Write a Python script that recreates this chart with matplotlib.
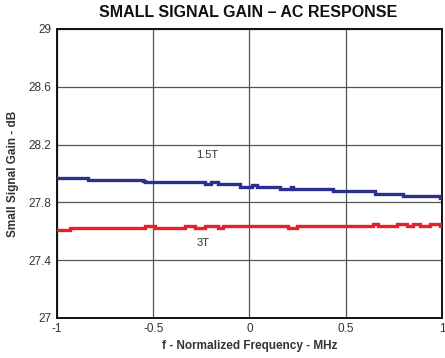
import matplotlib
matplotlib.use("Agg")
import matplotlib.pyplot as plt

# ---------------------------------------------------------------------------
# Data (normalized frequency, gain in dB)
# ---------------------------------------------------------------------------
freq_15t = [-1.0, -0.837, -0.553, -0.543, -0.231, -0.200, -0.165, -0.049,
            0.011, 0.037, 0.158, 0.215, 0.225, 0.436, 0.652, 0.799, 0.990, 1.0]
gain_15t = [27.971, 27.955, 27.945, 27.939, 27.925, 27.939, 27.925, 27.907,
            27.918, 27.907, 27.893, 27.904, 27.891, 27.879, 27.860, 27.842,
            27.830, 27.830]

freq_3t = [-1.0, -0.932, -0.543, -0.491, -0.335, -0.283, -0.231, -0.164,
           -0.138, 0.200, 0.247, 0.642, 0.668, 0.765, 0.817, 0.849, 0.886,
           0.938, 0.990, 1.0]
gain_3t = [27.609, 27.621, 27.635, 27.621, 27.635, 27.621, 27.635, 27.621,
           27.635, 27.621, 27.635, 27.648, 27.635, 27.648, 27.635, 27.648,
           27.635, 27.648, 27.635, 27.635]

x_ticks = [-1, -0.5, 0, 0.5, 1]
x_tick_labels = ["-1", "-0.5", "0", "0.5", "1"]
y_ticks = [27, 27.4, 27.8, 28.2, 28.6, 29]
y_tick_labels = ["27", "27.4", "27.8", "28.2", "28.6", "29"]

plt.rcParams["font.family"] = ["Liberation Sans", "DejaVu Sans"]

fig = plt.figure(figsize=(4.45, 3.58), dpi=100)
ax = fig.add_axes([0.128, 0.112, 0.865, 0.807])

ax.plot(freq_15t, gain_15t, drawstyle="steps-post", color="#2b2f8f",
        linewidth=2.4, solid_joinstyle="miter", zorder=3)
ax.plot(freq_3t, gain_3t, drawstyle="steps-post", color="#e8202a",
        linewidth=2.4, solid_joinstyle="miter", zorder=3)

ax.text(-0.22, 28.13, "1.5T", fontsize=8, color="#333333",
        ha="center", va="center")
ax.text(-0.24, 27.52, "3T", fontsize=8, color="#333333",
        ha="center", va="center")

ax.set_xlim(-1, 1)
ax.set_ylim(27, 29)
ax.set_xticks(x_ticks)
ax.set_xticklabels(x_tick_labels)
ax.set_yticks(y_ticks)
ax.set_yticklabels(y_tick_labels)
ax.tick_params(length=0, labelsize=8.5, labelcolor="#333333", pad=4)
ax.grid(True, color="#555555", linewidth=0.9)
ax.set_axisbelow(True)
for s in ax.spines.values():
    s.set_linewidth(1.4)
    s.set_color("#111111")

ax.set_xlabel("f - Normalized Frequency - MHz", fontsize=8.5,
              fontweight="bold", color="#333333", labelpad=3)
ax.set_ylabel("Small Signal Gain - dB", fontsize=8.5,
              fontweight="bold", color="#333333", labelpad=7)
fig.text(0.558, 0.965, "SMALL SIGNAL GAIN \u2013 AC RESPONSE", fontsize=11.5,
         fontweight="bold", color="#111111", ha="center", va="center")

fig.savefig("out.png", dpi=100)
